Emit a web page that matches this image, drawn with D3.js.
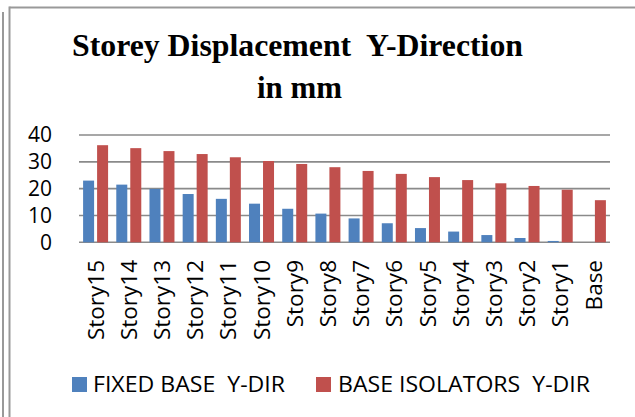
<!DOCTYPE html>
<html><head><meta charset="utf-8">
<script src="https://cdn.jsdelivr.net/npm/d3@7/dist/d3.min.js"></script>
<style>
html,body{margin:0;padding:0;background:#fff;}
svg{display:block;}
text{white-space:pre;}
</style></head>
<body>
<svg id="chart" width="635" height="417"></svg>
<script>
const categories = ["Story15","Story14","Story13","Story12","Story11","Story10","Story9","Story8","Story7","Story6","Story5","Story4","Story3","Story2","Story1","Base"];
const fixedBase = [23.0,21.5,19.9,18.0,16.2,14.4,12.5,10.7,8.9,7.1,5.3,4.0,2.7,1.6,0.5,0];
const baseIsolators = [36.2,35.1,34.0,32.9,31.7,30.3,29.2,28.0,26.6,25.5,24.3,23.2,22.0,21.0,19.6,15.7];
const seriesNames = ["FIXED BASE  Y-DIR","BASE ISOLATORS  Y-DIR"];
const seriesColors = ["#4F81BD","#C0504D"];
const yTicks = [0,10,20,30,40];
const titleLines = ["Storey Displacement  Y-Direction","in mm"];

const svg = d3.select("#chart");

// frame lines
const frame = svg.append("g").attr("stroke","#999").attr("stroke-width",2).attr("fill","none");
frame.append("line").attr("x1",3).attr("x2",3).attr("y1",12).attr("y2",417);
frame.append("line").attr("x1",9.5).attr("x2",9.5).attr("y1",6.5).attr("y2",417);
frame.append("line").attr("x1",9.5).attr("x2",635).attr("y1",7.5).attr("y2",7.5);

// title
svg.append("text").attr("x",72).attr("y",56)
  .attr("font-family","'Liberation Serif','Times New Roman',serif").attr("font-weight","bold")
  .attr("font-size",31).attr("fill","#000")
  .attr("textLength",451).attr("lengthAdjust","spacingAndGlyphs").text(titleLines[0]);
svg.append("text").attr("x",257).attr("y",98)
  .attr("font-family","'Liberation Serif','Times New Roman',serif").attr("font-weight","bold")
  .attr("font-size",31).attr("fill","#000")
  .attr("textLength",85).attr("lengthAdjust","spacingAndGlyphs").text(titleLines[1]);

// scales
const x = d3.scaleBand().domain(categories).range([79,610]).paddingInner(0).paddingOuter(0);
const xs = d3.scaleBand().domain([0,1]).range([0,x.bandwidth()]).paddingInner(0.214).paddingOuter(0.293);
const y = d3.scaleLinear().domain([0,40]).range([242.3,135]);

// gridlines
svg.append("g").selectAll("line").data(yTicks).join("line")
  .attr("x1",79).attr("x2",610).attr("y1",d=>y(d)).attr("y2",d=>y(d))
  .attr("stroke","#8a8a8a").attr("stroke-width",1.6);

// y axis labels
const yAxis = d3.axisLeft(y).tickValues(yTicks).tickSize(0).tickPadding(0).tickFormat(d3.format("d"));
const ya = svg.append("g").attr("transform","translate(52,0)").call(yAxis);
ya.select(".domain").remove();
ya.selectAll("text").attr("font-family","'Open Sans',sans-serif").attr("font-size",21).attr("fill","#000");

// bars
const series = [fixedBase, baseIsolators];
series.forEach((vals,si)=>{
  svg.append("g").selectAll("rect").data(vals).join("rect")
    .attr("x",(d,i)=>x(categories[i])+xs(si))
    .attr("width",xs.bandwidth())
    .attr("y",d=>y(d))
    .attr("height",d=>y(0)-y(d))
    .attr("fill",seriesColors[si]);
});

// x labels
const xAxis = d3.axisBottom(x).tickSize(0).tickPadding(0);
const xa = svg.append("g").attr("transform","translate(0,260)").call(xAxis);
xa.select(".domain").remove();
xa.selectAll("text")
  .attr("font-family","'Open Sans',sans-serif").attr("font-size",22.5).attr("fill","#000")
  .attr("transform","rotate(-90)").attr("text-anchor","end")
  .attr("x",0).attr("y",0).attr("dy","0.36em").attr("dx",0);

// legend
const legendItems = [{sx:72, tx:93, tw:192},{sx:316, tx:338, tw:252}];
legendItems.forEach((it,i)=>{
  svg.append("rect").attr("x",it.sx).attr("y",377).attr("width",15).attr("height",15).attr("fill",seriesColors[i]);
  svg.append("text").attr("x",it.tx).attr("y",392).attr("font-family","'Open Sans',sans-serif")
    .attr("font-size",21).attr("fill","#000")
    .attr("textLength",it.tw).attr("lengthAdjust","spacingAndGlyphs").text(seriesNames[i]);
});
</script>
</body></html>
